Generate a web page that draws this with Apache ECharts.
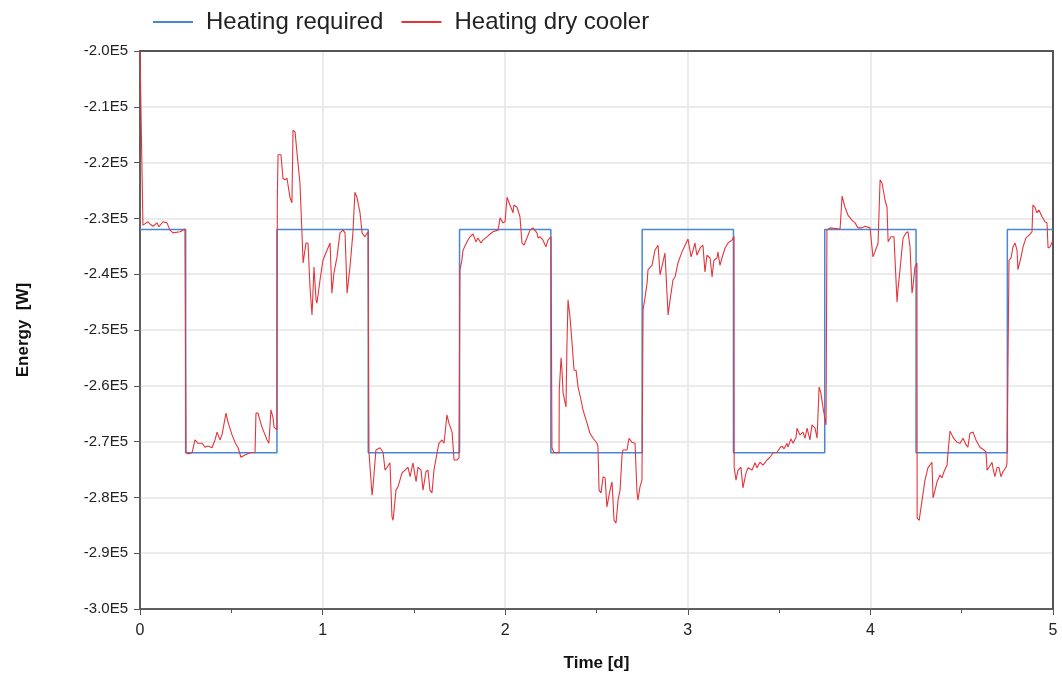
<!DOCTYPE html>
<html>
<head>
<meta charset="utf-8">
<script src="https://cdn.jsdelivr.net/npm/echarts@6/dist/echarts.min.js"></script>
<style>
html,body{margin:0;padding:0;background:#fff;}
#chart{width:1062px;height:680px;}
</style>
</head>
<body>
<div id="chart"></div>
<script>
// Heating required (step signal): change times [d] and value after change [W]
var reqTime  = [0, 0.25, 0.75, 1.25, 1.75, 2.25, 2.75, 3.25, 3.75, 4.25, 4.75, 5];
var reqValue = [-232000, -272000, -232000, -272000, -232000, -272000, -232000, -272000, -232000, -272000, -232000, -232000];

// Heating dry cooler: time [d] and energy [W]
var dryTime = [
0.000,0.013,0.016,0.044,0.055,0.071,0.093,0.104,0.126,0.148,0.164,0.181,0.219,0.246,
0.252,0.263,0.285,0.301,0.318,0.340,0.356,0.372,0.394,0.411,0.422,0.438,0.449,0.471,0.482,0.504,0.520,0.537,0.553,0.575,0.602,0.630,0.635,0.646,0.668,0.696,0.706,0.717,0.728,0.734,0.750,
0.752,0.756,0.772,0.783,0.794,0.805,0.821,0.832,0.838,0.849,0.860,0.876,0.887,0.893,0.909,0.920,0.931,0.942,0.953,0.964,0.969,0.986,1.002,1.024,1.041,1.051,1.062,1.079,1.095,1.112,1.123,1.134,1.150,1.166,1.177,1.188,1.205,1.216,1.232,1.249,
1.254,1.271,1.276,1.292,1.314,1.331,1.342,1.353,1.369,1.380,1.386,1.402,1.413,1.435,1.451,1.468,1.479,1.495,1.512,1.522,1.539,1.550,1.566,1.577,1.588,1.599,1.610,1.627,1.637,1.654,1.665,1.681,1.692,1.709,1.720,1.736,1.747,
1.752,1.763,1.769,1.791,1.807,1.824,1.840,1.851,1.867,1.878,1.900,1.917,1.933,1.961,1.972,1.988,1.999,2.010,2.015,2.026,2.043,2.048,2.065,2.081,2.092,2.103,2.119,2.136,2.152,2.174,2.180,2.191,2.207,2.223,2.234,2.251,
2.256,2.267,2.295,2.296,2.306,2.311,2.317,2.333,2.338,2.344,2.355,2.366,2.377,2.388,2.399,2.415,2.426,2.448,2.464,2.481,2.503,2.508,2.514,2.525,2.536,2.547,2.557,2.574,2.585,2.596,2.607,2.618,2.629,2.640,2.645,2.667,2.678,2.694,2.711,2.722,2.727,2.738,2.749,
2.755,2.766,2.777,2.782,2.804,2.820,2.837,2.848,2.864,2.875,2.886,2.892,2.903,2.919,2.930,2.946,2.968,2.985,3.001,3.018,3.029,3.039,3.050,3.067,3.083,3.094,3.105,3.122,3.133,3.143,3.160,3.165,3.176,3.187,3.204,3.220,3.242,3.253,
3.254,3.264,3.275,3.291,3.302,3.319,3.330,3.352,3.368,3.379,3.395,3.412,3.434,3.450,3.467,3.489,3.505,3.516,3.527,3.543,3.549,3.565,3.576,3.593,3.598,3.614,3.631,3.642,3.653,3.669,3.680,3.697,3.708,3.719,3.729,3.740,3.757,
3.762,3.779,3.834,3.845,3.861,3.877,3.899,3.916,3.932,3.954,3.970,3.998,4.014,4.025,4.042,4.053,4.064,4.080,4.091,4.097,4.113,4.129,4.146,4.151,4.162,4.179,4.195,4.206,4.217,4.228,4.233,4.244,4.255,
4.256,4.267,4.283,4.299,4.315,4.337,4.343,4.354,4.365,4.381,4.392,4.403,4.420,4.425,4.436,4.452,4.463,4.474,4.491,4.507,4.513,4.524,4.534,4.545,4.562,4.578,4.600,4.622,4.633,4.639,4.650,4.666,4.671,4.682,4.693,4.704,4.715,4.726,4.743,4.748,
4.759,4.770,4.781,4.792,4.803,4.808,4.825,4.836,4.852,4.869,4.885,4.890,4.901,4.912,4.923,4.940,4.956,4.967,4.973,4.984,5.000
];
var dryValue = [
-200000,-225300,-231200,-230600,-231000,-231400,-230800,-231500,-230600,-230800,-232100,-232600,-232400,-231900,
-272000,-272200,-272000,-269700,-270300,-270300,-271000,-270800,-271100,-269700,-268300,-269700,-268800,-264900,-266500,-268800,-270100,-271100,-272800,-272400,-272000,-271900,-264900,-264900,-267400,-269700,-270300,-264300,-265600,-267400,-267900,
-226700,-218600,-218600,-222800,-223100,-222800,-226200,-227200,-214200,-214500,-218300,-223700,-232600,-238000,-234400,-234400,-242300,-247300,-238700,-244600,-245200,-241000,-237500,-235700,-234400,-243400,-239800,-236900,-232600,-232100,-232600,-243400,-238700,-232600,-225300,-226200,-229000,-232600,-233300,-232400,
-272000,-279600,-278100,-271500,-271100,-271900,-275100,-274600,-273800,-283500,-284100,-278700,-278100,-275600,-275100,-274600,-276300,-273800,-277200,-274600,-275100,-278700,-275400,-275100,-278700,-279200,-275100,-272000,-270300,-269700,-270300,-265200,-266700,-268300,-273300,-273300,-272900,
-239200,-237500,-235700,-234200,-233300,-232800,-234200,-233500,-234400,-233900,-233300,-232800,-232400,-232100,-229900,-230800,-230600,-226200,-226300,-227600,-229000,-227600,-228000,-229700,-234400,-234800,-233500,-232100,-231700,-232600,-233500,-233300,-233900,-235100,-233900,-233300,
-271100,-272000,-272000,-260800,-255000,-257200,-261300,-263800,-253000,-244600,-247700,-252300,-257200,-257200,-260200,-262500,-264300,-266700,-268500,-269400,-270300,-271000,-278700,-279200,-276300,-276500,-281700,-278700,-277200,-284100,-284600,-280500,-278700,-272400,-271500,-271500,-269400,-270100,-270300,-279200,-280500,-278100,-276900,
-246400,-244100,-241600,-239200,-238400,-235700,-234800,-240100,-237800,-236200,-243400,-247300,-244600,-241000,-240500,-238000,-236000,-234800,-233700,-236900,-235700,-234400,-236600,-235300,-234800,-239600,-236600,-237100,-240500,-237500,-237100,-236000,-238400,-237100,-235300,-234400,-233900,-233200,
-274600,-276900,-275100,-274600,-278300,-275600,-274700,-275100,-273800,-274700,-273700,-274200,-273300,-272800,-272000,-271900,-271100,-270800,-271300,-270300,-271000,-269500,-270300,-269200,-267600,-268800,-268300,-269400,-267600,-269700,-267000,-267600,-269400,-260200,-261300,-263800,-267000,
-232100,-231700,-231900,-226000,-228000,-229400,-230300,-230800,-231700,-231700,-231400,-231700,-236900,-236000,-234400,-223100,-223700,-226700,-228000,-234200,-233300,-233300,-245000,-242800,-239200,-233500,-232600,-232400,-235100,-243400,-242300,-238700,-238000,
-283700,-284100,-280500,-276900,-274700,-273700,-280100,-278700,-277200,-276000,-276500,-275400,-274200,-272000,-268100,-269200,-269700,-270100,-270300,-269400,-269200,-270600,-271000,-268500,-268300,-269700,-271000,-271500,-271900,-275100,-274600,-273700,-274700,-276300,-274700,-274600,-276300,-275400,-274600,-273800,
-237500,-237100,-235100,-234400,-235700,-239200,-236900,-235100,-233500,-233000,-232400,-227600,-228000,-229000,-228500,-229700,-230600,-230800,-235300,-235100,-233900
];

var reqData = reqTime.map(function (t, i) { return [t, reqValue[i]]; });
var dryData = dryTime.map(function (t, i) { return [t, dryValue[i]]; });

var chart = echarts.init(document.getElementById('chart'), null, {renderer: 'canvas'});
var font = 'Liberation Sans, Arial, sans-serif';
var frameColor = '#555555';
chart.setOption({
  animation: false,
  backgroundColor: '#ffffff',
  textStyle: {fontFamily: font},
  legend: {
    top: 5,
    left: 148,
    itemWidth: 40,
    itemHeight: 2,
    itemGap: 18,
    icon: 'rect',
    textStyle: {fontSize: 24, color: '#222', fontFamily: font, padding: [0, 0, 0, 8]},
    data: ['Heating required', 'Heating dry cooler']
  },
  grid: {
    left: 140, right: 9, top: 51, bottom: 71,
    show: true, borderColor: frameColor, borderWidth: 1.5, containLabel: false
  },
  xAxis: [{
    type: 'value', min: 0, max: 5, interval: 1,
    name: 'Time [d]', nameLocation: 'middle', nameGap: 46,
    nameTextStyle: {fontSize: 17, fontWeight: 'bold', color: '#111', fontFamily: font},
    axisLine: {show: true, onZero: false, lineStyle: {color: frameColor, width: 1.5}},
    axisTick: {show: true, length: 6, lineStyle: {color: frameColor}},
    minorTick: {show: true, splitNumber: 2, length: 4, lineStyle: {color: frameColor}},
    axisLabel: {fontSize: 16, color: '#222', margin: 14, fontFamily: font},
    splitLine: {show: true, showMinLine: false, showMaxLine: false, lineStyle: {color: '#e4e4e4', width: 1.5}}
  }, {
    type: 'value', position: 'top', min: 0, max: 5, interval: 1,
    axisLine: {show: true, onZero: false, lineStyle: {color: frameColor, width: 2}},
    axisTick: {show: false}, axisLabel: {show: false}, splitLine: {show: false}
  }],
  yAxis: [{
    type: 'value', min: -300000, max: -200000, interval: 10000,
    name: 'Energy  [W]', nameLocation: 'middle', nameGap: 108, nameRotate: 90,
    nameTextStyle: {fontSize: 17, fontWeight: 'bold', color: '#111', fontFamily: font},
    axisLine: {show: true, onZero: false, lineStyle: {color: frameColor, width: 1.5}},
    axisTick: {show: true, length: 6, lineStyle: {color: frameColor}},
    axisLabel: {
      fontSize: 15, color: '#222', margin: 12, fontFamily: font,
      formatter: function (v) { return (v / 100000).toFixed(1) + 'E5'; }
    },
    splitLine: {show: true, showMinLine: false, showMaxLine: false, lineStyle: {color: '#e4e4e4', width: 1.5}}
  }, {
    type: 'value', position: 'right', min: -300000, max: -200000, interval: 10000,
    axisLine: {show: true, onZero: false, lineStyle: {color: frameColor, width: 2}},
    axisTick: {show: false}, axisLabel: {show: false}, splitLine: {show: false}
  }],
  series: [
    {
      name: 'Heating required', type: 'line', step: 'end', data: reqData,
      xAxisIndex: 0, yAxisIndex: 0,
      showSymbol: false, symbol: 'none',
      lineStyle: {color: '#4a86d6', width: 1.5}, itemStyle: {color: '#4a86d6'}, z: 2
    },
    {
      name: 'Heating dry cooler', type: 'line', data: dryData,
      xAxisIndex: 0, yAxisIndex: 0,
      showSymbol: false, symbol: 'none', clip: true,
      lineStyle: {color: '#e2363c', width: 1.1}, itemStyle: {color: '#e2363c'}, z: 3
    }
  ]
});
</script>
</body>
</html>
